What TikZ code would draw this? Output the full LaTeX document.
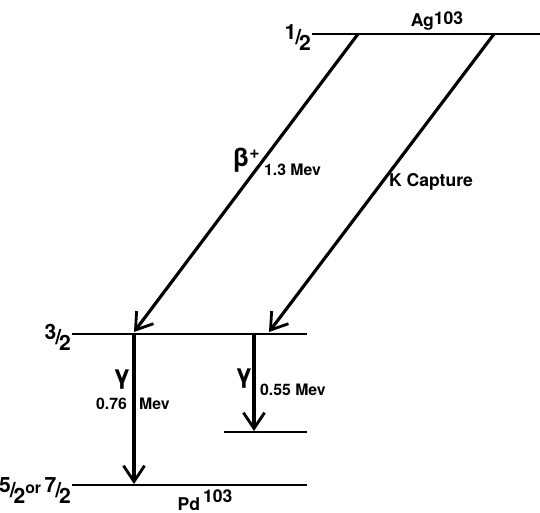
\documentclass[tikz,border=0pt]{standalone}
\usepackage{fontspec}
\setsansfont{TeX Gyre Heros}
\usetikzlibrary{arrows.meta}
\tikzset{
  every node/.style={font=\sffamily\bfseries\small},
  lvl/.style={line width=1.3pt},
  trans/.style={line width=1.8pt, -{Straight Barb[length=9pt, width=12pt, line width=1.6pt]}},
  lbl/.style={inner sep=1pt},
  greek/.style={lbl, font=\sffamily\bfseries\Large},
  spin/.style={lbl, inner sep=0.5pt, font=\sffamily\bfseries\large},
}
\newcommand{\spinfr}[2]{\raisebox{.45ex}{#1}\kern-.05em/\kern-.1em\raisebox{-.55ex}{#2}}

\begin{document}
\begin{tikzpicture}[x=0.02cm, y=-0.02cm]
  \useasboundingbox (0,0) rectangle (540,512);
  % levels
  \coordinate (agL) at (312,34);  \coordinate (agR) at (540,34);
  \coordinate (exL) at (72,334);  \coordinate (exR) at (307,334);
  \coordinate (loL) at (224,432); \coordinate (loR) at (307,432);
  \coordinate (gsL) at (72,485);  \coordinate (gsR) at (307,485);
  \draw[lvl] (agL) -- (agR);
  \draw[lvl] (exL) -- (exR);
  \draw[lvl] (loL) -- (loR);
  \draw[lvl] (gsL) -- (gsR);
  \node[lbl, font=\sffamily\bfseries\normalsize] (ag) at (437,21) {Ag\raisebox{.25ex}{103}};
  \node[lbl, font=\sffamily\bfseries\normalsize] (pd) at (205,500) {Pd\raisebox{.9ex}{\,103}};
  \node[spin, anchor=east] (jtop) at ([yshift=-2]agL) {\spinfr{1}{2}};
  \node[spin, anchor=east] (jex) at ([yshift=-2]exL) {\spinfr{3}{2}};
  \node[spin, anchor=east] (jgs) at ([yshift=-3]gsL) {\spinfr{5}{2}\raisebox{.35ex}{\small or}\,\spinfr{7}{2}};
  % beta+ and K capture
  \coordinate (b1) at (358,34);  \coordinate (b2) at (134,332);
  \coordinate (k1) at (494,34);  \coordinate (k2) at (269,332);
  \draw[trans] (b1) -- (b2);
  \draw[trans] (k1) -- (k2);
  \node[greek] (beta) at (246,160) {β\raisebox{.6ex}{\normalsize+}};
  \node[lbl, anchor=west] (ebeta) at (262,170) {1.3 Mev};
  \node[lbl, font=\sffamily\bfseries\normalsize] (kcap) at (431,182) {K Capture};
  % gamma lines
  \coordinate (g1) at (134,334);  \coordinate (g1e) at (134,484);
  \coordinate (g2) at (254,334);  \coordinate (g2e) at (254,431);
  \draw[trans] (g1) -- (g1e);
  \draw[trans] (g2) -- (g2e);
  \node[greek] (gam1) at (122,380) {γ};
  \node[lbl, anchor=east] (egam1) at (129,404) {0.76};
  \node[lbl, anchor=west] (mev1) at (137,404) {Mev};
  \node[greek] (gam2) at (244,379) {γ};
  \node[lbl, anchor=west] (egam2) at (258,390) {0.55 Mev};
\end{tikzpicture}
\end{document}
